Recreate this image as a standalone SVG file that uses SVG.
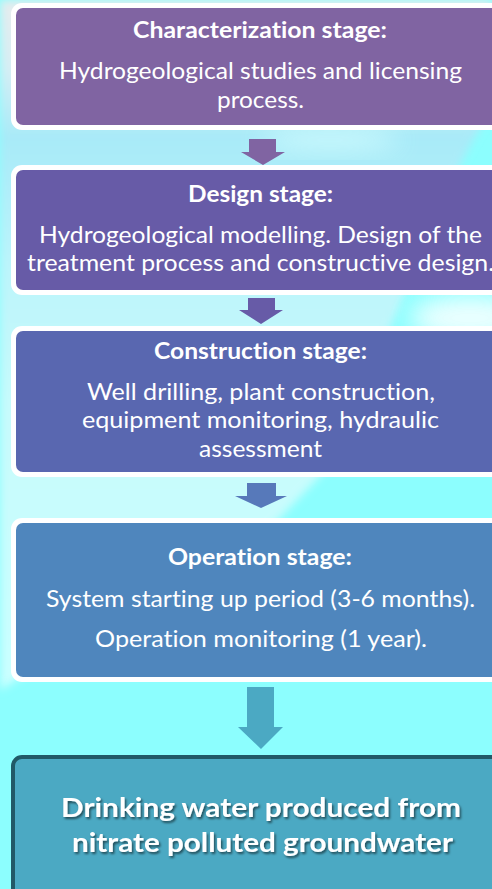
<svg xmlns="http://www.w3.org/2000/svg" width="492" height="889" viewBox="0 0 492 889">
<defs>
<linearGradient id="bgLight" x1="0" y1="0" x2="0" y2="1" gradientUnits="objectBoundingBox">
<stop offset="0" stop-color="#E6ECEE"/>
<stop offset="0.1" stop-color="#D6EEF4"/>
<stop offset="0.2" stop-color="#A8EAF8"/>
<stop offset="0.38" stop-color="#BCF4FB"/>
<stop offset="0.6" stop-color="#C8FBFC"/>
<stop offset="1" stop-color="#CAFFFF"/>
</linearGradient>
<filter id="soft" x="-10%" y="-10%" width="120%" height="120%"><feGaussianBlur stdDeviation="4"/></filter>
<filter id="blur12" x="-50%" y="-50%" width="200%" height="200%"><feGaussianBlur stdDeviation="12"/></filter>
<filter id="shadow" x="-10%" y="-30%" width="120%" height="160%"><feDropShadow dx="1.5" dy="2" stdDeviation="1.2" flood-color="#000" flood-opacity="0.55"/></filter>
</defs>
<style>
.outer{fill:#FFFFFF}
text{font-variant-ligatures:none;font-feature-settings:"liga" 0,"clig" 0,"dlig" 0}
.title{font-family:Lato,"Liberation Sans",sans-serif;font-weight:bold;font-size:22px;fill:#FFFFFF;text-anchor:middle}
.body{font-family:Lato,"Liberation Sans",sans-serif;font-size:23px;fill:#FFFFFF;text-anchor:middle}
.final{font-family:Lato,"Liberation Sans",sans-serif;font-weight:bold;font-size:27px;fill:#FFFFFF;text-anchor:middle;filter:url(#shadow)}
</style>
<rect x="0" y="0" width="492" height="889" fill="#8CFEFE"/>
<path d="M0,0 L492,0 L492,110 C430,200 380,380 322,474 L278,520 C190,600 80,640 0,690 Z" fill="url(#bgLight)" filter="url(#soft)"/>
<ellipse cx="470" cy="318" rx="60" ry="22" fill="#FFFFFF" opacity="0.85" filter="url(#blur12)"/>
<ellipse cx="330" cy="140" rx="70" ry="10" fill="#D8FFFF" opacity="0.8" filter="url(#blur12)"/>

<g id="connectors">
<path d="M249,139 H276 V152 H285 L263,165 L241,152 H249 Z" fill="#8064A2"/>
<path d="M248,298 H275 V310 H283 L261,324 L239,310 H248 Z" fill="#675BA7"/>
<path d="M247,483 H276 V496 H287 L261,508 L235,496 H247 Z" fill="#5779BA"/>
<path d="M247,687 H274 V727 H283 L261,749 L238,727 H247 Z" fill="#4BA9C3"/>
</g>

<g id="characterization">
<rect class="outer" x="11" y="3" width="500" height="127" rx="11"/>
<rect x="16" y="8" width="490" height="117" rx="7" fill="#8064A2"/>
<text class="title" x="260" y="38" textLength="254" lengthAdjust="spacingAndGlyphs">Characterization stage:</text>
<text class="body" x="260.5" y="79" textLength="403" lengthAdjust="spacingAndGlyphs">Hydrogeological studies and licensing</text>
<text class="body" x="260.5" y="108" textLength="87" lengthAdjust="spacingAndGlyphs">process.</text>
</g>

<g id="design">
<rect class="outer" x="11" y="165" width="500" height="130" rx="11"/>
<rect x="16" y="170" width="490" height="120" rx="7" fill="#675BA7"/>
<text class="title" x="260.5" y="202" textLength="145" lengthAdjust="spacingAndGlyphs">Design stage:</text>
<text class="body" x="260.5" y="243" textLength="443" lengthAdjust="spacingAndGlyphs">Hydrogeological modelling. Design of the</text>
<text class="body" x="260.5" y="271" textLength="467" lengthAdjust="spacingAndGlyphs">treatment process and constructive design.</text>
</g>

<g id="construction">
<rect class="outer" x="11" y="326" width="500" height="151" rx="11"/>
<rect x="16" y="331" width="490" height="141" rx="7" fill="#5967B0"/>
<text class="title" x="260.5" y="359" textLength="213" lengthAdjust="spacingAndGlyphs">Construction stage:</text>
<text class="body" x="261" y="400" textLength="348" lengthAdjust="spacingAndGlyphs">Well drilling, plant construction,</text>
<text class="body" x="260.5" y="428" textLength="357" lengthAdjust="spacingAndGlyphs">equipment monitoring, hydraulic</text>
<text class="body" x="260.5" y="457" textLength="123" lengthAdjust="spacingAndGlyphs">assessment</text>
</g>

<g id="operation">
<rect class="outer" x="11" y="518" width="500" height="164" rx="11"/>
<rect x="16" y="523" width="490" height="154" rx="7" fill="#4F86BD"/>
<text class="title" x="260" y="565" textLength="184" lengthAdjust="spacingAndGlyphs">Operation stage:</text>
<text class="body" x="260.5" y="607" textLength="429" lengthAdjust="spacingAndGlyphs">System starting up period (3-6 months).</text>
<text class="body" x="261" y="647" textLength="332" lengthAdjust="spacingAndGlyphs">Operation monitoring (1 year).</text>
</g>

<g id="result">
<rect x="13" y="757" width="500" height="150" rx="9" fill="#4BA9C3" stroke="#215967" stroke-width="4"/>
<text class="final" x="261" y="817" textLength="400" lengthAdjust="spacingAndGlyphs">Drinking water produced from</text>
<text class="final" x="262.5" y="852" textLength="381" lengthAdjust="spacingAndGlyphs">nitrate polluted groundwater</text>
</g>
</svg>
